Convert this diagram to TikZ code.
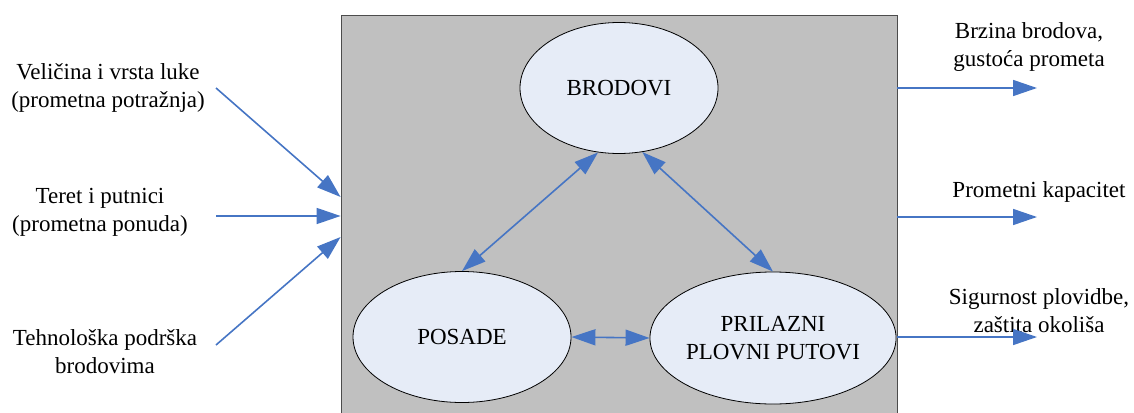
\documentclass[tikz,border=0pt]{standalone}
\usepackage{fontspec}
\setmainfont{Liberation Serif}
\newfontfamily\lserif{Liberation Serif}
\usetikzlibrary{shapes.geometric,arrows.meta}
\definecolor{boxgray}{RGB}{192,192,192}
\definecolor{ellfill}{RGB}{230,236,247}
\definecolor{arrblue}{RGB}{70,117,196}
\tikzset{
  every node/.style={font=\lserif\fontsize{23}{28}\selectfont},
  ell/.style={ellipse, draw=black, line width=0.8pt, fill=ellfill, inner sep=0pt, align=center},
  lbl/.style={align=center, inner sep=0pt},
  conn/.style={draw=arrblue, line width=1.6pt, -{Triangle[length=24pt,width=16pt]}},
  bconn/.style={draw=arrblue, line width=1.6pt, {Triangle[length=24pt,width=16pt]}-{Triangle[length=24pt,width=16pt]}}
}
\begin{document}
\begin{tikzpicture}[x=1pt,y=-1pt]
\useasboundingbox (0,0) rectangle (1134,412);
% system box
\node[draw=black!70, line width=0.8pt, fill=boxgray, minimum width=556pt, minimum height=405pt, inner sep=0pt] (sys) at (619,217.5) {};
% ellipses
\node[ell, minimum width=198pt, minimum height=131pt] (b) at (619,88) {BRODOVI};
\node[ell, minimum width=218pt, minimum height=131pt] (p) at (462,337) {POSADE};
\node[ell, minimum width=227pt, minimum height=132pt] (r) at (773,338) {PRILAZNI\\PLOVNI PUTOVI};
\draw[bconn] (b.252) -- (p.north);
\draw[bconn] (b.290) -- (r.north);
\draw[bconn] (p.east) -- (r.west);
% input labels
\node[lbl] (l1) at (108,88) {Veličina i vrsta luke\\(prometna potražnja)};
\node[lbl] (l2) at (100,212) {Teret i putnici\\(prometna ponuda)};
\node[lbl] (l3) at (105,352) {Tehnološka podrška\\brodovima};
\coordinate (i1) at (216,88);
\coordinate (i2) at (216,216);
\coordinate (i3) at (216,345);
\draw[conn] (i1) -- (sys.west |- 0,197);
\draw[conn] (i2) -- (sys.west |- i2);
\draw[conn] (i3) -- (sys.west |- 0,237);
% output labels
\node[lbl] (o1l) at (1029,47) {Brzina brodova,\\gustoća prometa};
\node[lbl] (o2l) at (1039,192) {Prometni kapacitet};
\node[lbl] (o3l) at (1039,311) {Sigurnost plovidbe,\\zaštita okoliša};
\coordinate (o1) at (1037,88);
\coordinate (o2) at (1037,217);
\coordinate (o3) at (1037,337);
\draw[conn] (sys.east |- o1) -- (o1);
\draw[conn] (sys.east |- o2) -- (o2);
\draw[conn] (sys.east |- o3) -- (o3);
\end{tikzpicture}
\end{document}
